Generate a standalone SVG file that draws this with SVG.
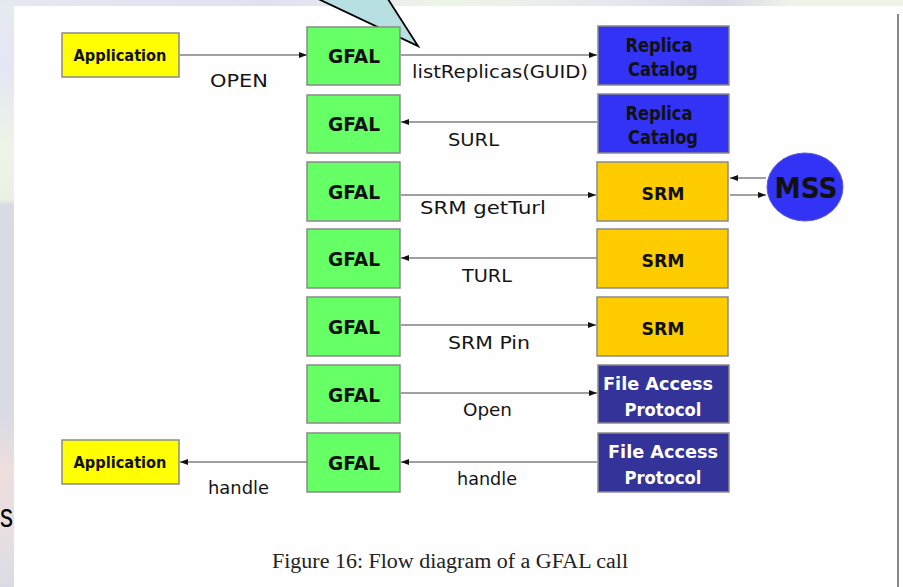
<svg xmlns="http://www.w3.org/2000/svg" width="903" height="587" viewBox="0 0 903 587">
<defs>
<linearGradient id="lstrip" x1="0" y1="0" x2="0" y2="1">
<stop offset="0" stop-color="#e6eaf0"/>
<stop offset="0.12" stop-color="#e4e6f4"/>
<stop offset="0.25" stop-color="#eef4e6"/>
<stop offset="0.34" stop-color="#eaf0e4"/>
<stop offset="0.35" stop-color="#d8dbe3"/>
<stop offset="0.7" stop-color="#d8dae4"/>
<stop offset="0.8" stop-color="#eedede"/>
<stop offset="0.92" stop-color="#e6dfe2"/>
<stop offset="1" stop-color="#d9dbe4"/>
</linearGradient>
<linearGradient id="tstrip" x1="0" y1="0" x2="1" y2="0">
<stop offset="0" stop-color="#e6e8f0"/>
<stop offset="0.3" stop-color="#e0e0f2"/>
<stop offset="0.5" stop-color="#eef5e8"/>
<stop offset="0.7" stop-color="#e4e6ee"/>
<stop offset="0.8" stop-color="#d8dae6"/>
<stop offset="0.88" stop-color="#eef5e8"/>
<stop offset="1" stop-color="#eef5e8"/>
</linearGradient>
<marker id="ah" viewBox="0 0 8 8" refX="8" refY="4" markerWidth="8" markerHeight="8" markerUnits="userSpaceOnUse" orient="auto">
<path d="M0,1 L8,4 L0,7 Z" fill="#111"/>
</marker>
<style>
.box{stroke:#8a8a8a;stroke-width:1.5}
.app{fill:#ffff00}
.gfal{fill:#66ff66}
.rc{fill:#3333f5}
.srm{fill:#ffcc00}
.fap{fill:#333399}
.conn{stroke:#a0a0a0;stroke-width:2;fill:none;marker-end:url(#ah)}
.bt{font-family:"DejaVu Sans","Liberation Sans",sans-serif;font-weight:bold;fill:#111;text-anchor:middle}
.wt{fill:#fff}
.lbl{font-family:"DejaVu Sans","Liberation Sans",sans-serif;font-size:17px;fill:#151515}
</style>
</defs>
<rect x="0" y="0" width="903" height="587" fill="#ffffff"/>
<rect x="0" y="0" width="14" height="587" fill="url(#lstrip)"/>
<rect x="0" y="0" width="903" height="6" fill="url(#tstrip)"/>
<text x="0" y="527" font-family="Liberation Sans, Arial, sans-serif" font-size="34" fill="#000" textLength="13" lengthAdjust="spacingAndGlyphs">s</text>
<rect x="14" y="6" width="883" height="581" fill="#fefefe"/>
<rect x="897" y="14" width="2" height="573" fill="#888"/>

<g id="callout">
<polygon points="312,-4 418,46 386,-4" fill="#b8e0e2" stroke="#000" stroke-width="1.8"/>
</g>

<g id="connectors">
<line class="conn" x1="180" y1="55" x2="307" y2="55"/>
<line class="conn" x1="401" y1="55" x2="597" y2="55"/>
<line class="conn" x1="597" y1="122" x2="401" y2="122"/>
<line class="conn" x1="401" y1="195" x2="596" y2="195"/>
<line class="conn" x1="766" y1="178" x2="730" y2="178"/>
<line class="conn" x1="730" y1="195" x2="766" y2="195"/>
<line class="conn" x1="597" y1="258" x2="401" y2="258"/>
<line class="conn" x1="401" y1="325" x2="596" y2="325"/>
<line class="conn" x1="401" y1="393" x2="597" y2="393"/>
<line class="conn" x1="597" y1="462" x2="401" y2="462"/>
<line class="conn" x1="307" y1="462" x2="180" y2="462"/>
<text class="lbl" x="210" y="87" textLength="58" lengthAdjust="spacingAndGlyphs">OPEN</text>
<text class="lbl" x="412" y="78" textLength="176" lengthAdjust="spacingAndGlyphs">listReplicas(GUID)</text>
<text class="lbl" x="448" y="146" textLength="51" lengthAdjust="spacingAndGlyphs">SURL</text>
<text class="lbl" x="420" y="214" textLength="126" lengthAdjust="spacingAndGlyphs">SRM getTurl</text>
<text class="lbl" x="462" y="282" textLength="50" lengthAdjust="spacingAndGlyphs">TURL</text>
<text class="lbl" x="448" y="349" textLength="82" lengthAdjust="spacingAndGlyphs">SRM Pin</text>
<text class="lbl" x="463" y="416" textLength="49" lengthAdjust="spacingAndGlyphs">Open</text>
<text class="lbl" x="457" y="485" textLength="60" lengthAdjust="spacingAndGlyphs">handle</text>
<text class="lbl" x="208" y="494" textLength="61" lengthAdjust="spacingAndGlyphs">handle</text>
</g>

<g id="app1"><rect class="box app" x="62" y="33" width="117" height="44"/><text class="bt" x="120" y="61" font-size="16" textLength="93" lengthAdjust="spacingAndGlyphs">Application</text></g>
<g id="app2"><rect class="box app" x="62" y="440" width="117" height="44"/><text class="bt" x="120" y="468" font-size="16" textLength="93" lengthAdjust="spacingAndGlyphs">Application</text></g>

<g id="gfal1"><rect class="box gfal" x="307" y="27" width="93" height="58"/><text class="bt" x="354" y="63" font-size="20" textLength="52" lengthAdjust="spacingAndGlyphs">GFAL</text></g>
<g id="gfal2"><rect class="box gfal" x="307" y="95" width="93" height="58"/><text class="bt" x="354" y="131" font-size="20" textLength="52" lengthAdjust="spacingAndGlyphs">GFAL</text></g>
<g id="gfal3"><rect class="box gfal" x="307" y="162" width="93" height="59"/><text class="bt" x="354" y="199" font-size="20" textLength="52" lengthAdjust="spacingAndGlyphs">GFAL</text></g>
<g id="gfal4"><rect class="box gfal" x="307" y="229" width="93" height="59"/><text class="bt" x="354" y="266" font-size="20" textLength="52" lengthAdjust="spacingAndGlyphs">GFAL</text></g>
<g id="gfal5"><rect class="box gfal" x="307" y="297" width="93" height="59"/><text class="bt" x="354" y="334" font-size="20" textLength="52" lengthAdjust="spacingAndGlyphs">GFAL</text></g>
<g id="gfal6"><rect class="box gfal" x="307" y="365" width="93" height="58"/><text class="bt" x="354" y="402" font-size="20" textLength="52" lengthAdjust="spacingAndGlyphs">GFAL</text></g>
<g id="gfal7"><rect class="box gfal" x="307" y="433" width="93" height="59"/><text class="bt" x="354" y="470" font-size="20" textLength="52" lengthAdjust="spacingAndGlyphs">GFAL</text></g>

<g id="rc1"><rect class="box rc" x="598" y="26" width="131" height="59"/><text class="bt" x="659" y="52" font-size="19" textLength="67" lengthAdjust="spacingAndGlyphs">Replica</text><text class="bt" x="663" y="76" font-size="19" textLength="70" lengthAdjust="spacingAndGlyphs">Catalog</text></g>
<g id="rc2"><rect class="box rc" x="598" y="94" width="131" height="59"/><text class="bt" x="659" y="120" font-size="19" textLength="67" lengthAdjust="spacingAndGlyphs">Replica</text><text class="bt" x="663" y="144" font-size="19" textLength="70" lengthAdjust="spacingAndGlyphs">Catalog</text></g>

<g id="srm1"><rect class="box srm" x="597" y="162" width="131" height="59"/><text class="bt" x="663" y="200" font-size="18" textLength="43" lengthAdjust="spacingAndGlyphs">SRM</text></g>
<g id="srm2"><rect class="box srm" x="597" y="229" width="131" height="59"/><text class="bt" x="663" y="267" font-size="18" textLength="43" lengthAdjust="spacingAndGlyphs">SRM</text></g>
<g id="srm3"><rect class="box srm" x="597" y="297" width="131" height="59"/><text class="bt" x="663" y="335" font-size="18" textLength="43" lengthAdjust="spacingAndGlyphs">SRM</text></g>

<g id="fap1"><rect class="box fap" x="598" y="365" width="131" height="58"/><text class="bt wt" x="658" y="390" font-size="18" textLength="110" lengthAdjust="spacingAndGlyphs">File Access</text><text class="bt wt" x="663" y="416" font-size="18" textLength="77" lengthAdjust="spacingAndGlyphs">Protocol</text></g>
<g id="fap2"><rect class="box fap" x="598" y="433" width="131" height="59"/><text class="bt wt" x="663" y="458" font-size="18" textLength="110" lengthAdjust="spacingAndGlyphs">File Access</text><text class="bt wt" x="663" y="484" font-size="18" textLength="77" lengthAdjust="spacingAndGlyphs">Protocol</text></g>

<g id="mss"><ellipse cx="805" cy="187" rx="38" ry="34" fill="#3333f5" stroke="#5a5ad0" stroke-width="1"/><text class="bt" x="806" y="198" font-size="28" textLength="63" lengthAdjust="spacingAndGlyphs">MSS</text></g>

<text x="450" y="568" text-anchor="middle" font-family="Liberation Serif, Times New Roman, serif" font-size="20" fill="#222" textLength="356" lengthAdjust="spacingAndGlyphs">Figure 16: Flow diagram of a GFAL call</text>
</svg>
